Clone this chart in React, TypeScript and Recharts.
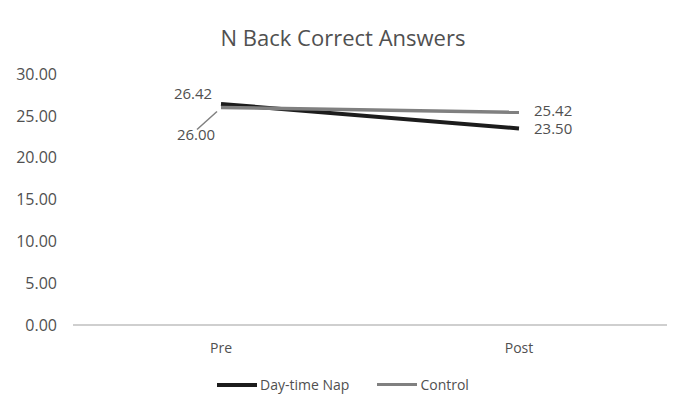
import { LineChart, Line, XAxis, YAxis, Legend, LabelList } from "recharts";

const phases = ["Pre", "Post"];
const napValues = [26.42, 23.5];
const controlValues = [26.0, 25.42];
const yTicks = [0, 5, 10, 15, 20, 25, 30];

const data = phases.map((phase, i) => ({
  phase,
  nap: napValues[i],
  control: controlValues[i],
}));

const FONT = "'Open Sans', 'Noto Sans', sans-serif";
const TEXT = "#505050";
const NAP_COLOR = "#1c1c1c";
const CONTROL_COLOR = "#808080";
const TICK_SIZE = 16;
const LABEL_SIZE = 15;

const NapLabel = (props: any) => {
  const { x, y, value, index } = props;
  const text = Number(value).toFixed(2);
  if (index === 0) {
    return (
      <text x={x - 28} y={y - 9} textAnchor="middle" dominantBaseline="middle" fill={TEXT} fontSize={LABEL_SIZE} fontFamily={FONT}>
        {text}
      </text>
    );
  }
  return (
    <text x={x + 15} y={y + 2} textAnchor="start" dominantBaseline="middle" fill={TEXT} fontSize={LABEL_SIZE} fontFamily={FONT}>
      {text}
    </text>
  );
};

const ControlLabel = (props: any) => {
  const { x, y, value, index } = props;
  const text = Number(value).toFixed(2);
  if (index === 0) {
    return (
      <g>
        <line x1={x - 4} y1={y + 4} x2={x - 24} y2={y + 22} stroke={CONTROL_COLOR} strokeWidth={1.5} />
        <text x={x - 25} y={y + 29} textAnchor="middle" dominantBaseline="middle" fill={TEXT} fontSize={LABEL_SIZE} fontFamily={FONT}>
          {text}
        </text>
      </g>
    );
  }
  return (
    <text x={x + 15} y={y} textAnchor="start" dominantBaseline="middle" fill={TEXT} fontSize={LABEL_SIZE} fontFamily={FONT}>
      {text}
    </text>
  );
};

const renderLegend = () => (
  <div style={{ display: "flex", justifyContent: "center", alignItems: "center", fontFamily: FONT, fontSize: 14, color: TEXT }}>
    <span style={{ display: "inline-block", width: 40, height: 4, background: NAP_COLOR, marginRight: 3 }} />
    <span>Day-time Nap</span>
    <span style={{ display: "inline-block", width: 40, height: 3, background: CONTROL_COLOR, marginLeft: 28, marginRight: 3 }} />
    <span>Control</span>
  </div>
);

export default function App() {
  return (
    <div style={{ position: "absolute", top: 0, left: 0, width: 686, height: 406, background: "#ffffff" }}>
      <div
        style={{
          position: "absolute",
          top: 22,
          left: 0,
          width: 686,
          textAlign: "center",
          fontFamily: FONT,
          fontSize: 22,
          color: TEXT,
          lineHeight: "30px",
        }}
      >
        N Back Correct Answers
      </div>
      <LineChart width={686} height={406} data={data} margin={{ top: 74, right: 19, bottom: 51, left: 0 }}>
        <XAxis
          dataKey="phase"
          height={30}
          padding={{ left: 148, right: 148 }}
          axisLine={{ stroke: "#bfbfbf", strokeWidth: 1.5 }}
          tickLine={false}
          tickMargin={12}
          tick={{ fill: TEXT, fontSize: 14, fontFamily: FONT }}
        />
        <YAxis
          width={73}
          domain={[0, 30]}
          ticks={yTicks}
          axisLine={false}
          tickLine={false}
          tickMargin={10}
          tickFormatter={(v: number) => v.toFixed(2)}
          tick={{ fill: TEXT, fontSize: TICK_SIZE, fontFamily: FONT }}
        />
        <Legend
          layout="horizontal"
          verticalAlign="middle"
          align="center"
          content={renderLegend}
          wrapperStyle={{ top: 375, left: 0, width: 686 }}
        />
        <Line
          type="linear"
          dataKey="nap"
          name="Day-time Nap"
          stroke={NAP_COLOR}
          strokeWidth={4}
          dot={false}
          activeDot={false}
          isAnimationActive={false}
        >
          <LabelList dataKey="nap" content={NapLabel} />
        </Line>
        <Line
          type="linear"
          dataKey="control"
          name="Control"
          stroke={CONTROL_COLOR}
          strokeWidth={3.5}
          dot={false}
          activeDot={false}
          isAnimationActive={false}
        >
          <LabelList dataKey="control" content={ControlLabel} />
        </Line>
      </LineChart>
    </div>
  );
}
